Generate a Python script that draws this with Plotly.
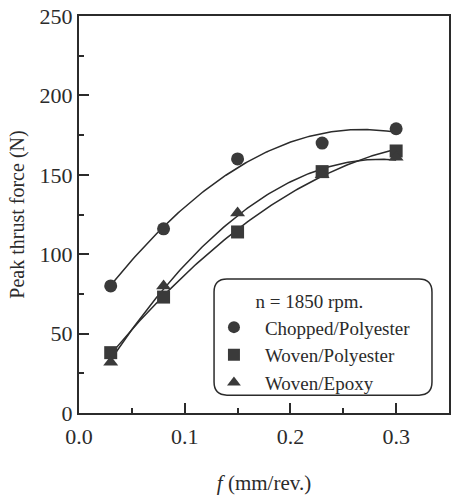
import numpy as np
import plotly.graph_objects as go

# Feed rates (mm/rev) and peak thrust force (N) per material
feed = [0.03, 0.08, 0.15, 0.23, 0.30]
chopped_polyester = [80, 116, 160, 170, 179]
woven_polyester = [38, 73, 114, 152, 165]
woven_epoxy = [32, 80, 126, 150, 161]

series = [
    ("Chopped/Polyester", chopped_polyester, "circle"),
    ("Woven/Polyester", woven_polyester, "square"),
    ("Woven/Epoxy", woven_epoxy, "triangle-up"),
]

ink = "#2b2b2b"
font_family = "Liberation Serif, Times New Roman, serif"

fig = go.Figure()

# second-order trend line through each material's measurements
x_fit = np.linspace(min(feed), max(feed), 120)
for name, vals, sym in series:
    coef = np.polyfit(feed, vals, 2)
    fig.add_trace(go.Scatter(
        x=x_fit, y=np.polyval(coef, x_fit), mode="lines",
        line=dict(color=ink, width=1.5), showlegend=False, hoverinfo="skip",
    ))

for name, vals, sym in series:
    fig.add_trace(go.Scatter(
        x=feed, y=vals, mode="markers", name=name,
        marker=dict(symbol=sym, size=13, color="#3a3a3a"),
    ))

# rounded frame around the legend (paper coordinates of the plot area)
x0, x1, y0, y1, r = 0.365, 0.954, 0.045, 0.3375, 0.035
ry = r * 373 / 397
path = (f"M {x0 + r},{y1} L {x1 - r},{y1} Q {x1},{y1} {x1},{y1 - ry} "
        f"L {x1},{y0 + ry} Q {x1},{y0} {x1 - r},{y0} L {x0 + r},{y0} "
        f"Q {x0},{y0} {x0},{y0 + ry} L {x0},{y1 - ry} Q {x0},{y1} {x0 + r},{y1} Z")
fig.add_shape(type="path", path=path, xref="paper", yref="paper",
              line=dict(color=ink, width=1.5))

axis_common = dict(
    showline=True, linecolor=ink, linewidth=2, mirror=True,
    ticks="inside", tickcolor=ink, tickwidth=1.5, ticklen=10,
    showgrid=False, zeroline=False,
    tickfont=dict(family=font_family, size=22, color=ink),
)

fig.update_xaxes(
    range=[0, 0.35], tickvals=[0.0, 0.1, 0.2, 0.3], ticktext=["0.0", "0.1", "0.2", "0.3"],
    minor=dict(tickvals=[0.05, 0.15, 0.25], ticks="inside", ticklen=5, tickcolor=ink, tickwidth=1.5),
    ticklabelstandoff=3,
    title=dict(text="<i>f</i> (mm/rev.)", font=dict(family=font_family, size=21, color=ink), standoff=28),
    **axis_common,
)
fig.update_yaxes(
    range=[0, 250], tickvals=[0, 50, 100, 150, 200, 250],
    minor=dict(tickvals=[25, 75, 125, 175, 225], ticks="inside", ticklen=5, tickcolor=ink, tickwidth=1.5),
    title=dict(text="Peak thrust force (N)", font=dict(family=font_family, size=20, color=ink), standoff=10),
    **axis_common,
)

fig.update_layout(
    width=452, height=495,
    margin=dict(l=79, r=1, t=16, b=82),
    paper_bgcolor="white", plot_bgcolor="white",
    font=dict(family=font_family, color=ink),
    legend=dict(
        x=0.335, y=0.326, xanchor="left", yanchor="top",
        bgcolor="rgba(0,0,0,0)", borderwidth=0,
        font=dict(family=font_family, size=19, color=ink),
        title=dict(text="n = 1850 rpm.", side="top center",
                   font=dict(family=font_family, size=19, color=ink)),
        tracegroupgap=0, itemsizing="constant", itemwidth=52,
    ),
)

fig.write_html("out.html")
